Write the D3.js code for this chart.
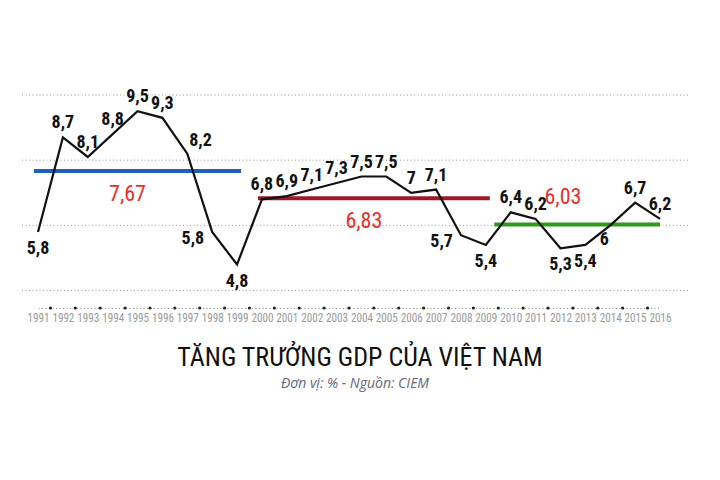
<!DOCTYPE html>
<html><head><meta charset="utf-8">
<script src="https://cdn.jsdelivr.net/npm/d3@7/dist/d3.min.js"></script>
<style>body{margin:0;background:#fff}</style></head>
<body><svg id="c" width="720" height="480"></svg>
<script>
const years = d3.range(1991, 2017);
const growth = [5.8,8.7,8.1,8.8,9.5,9.3,8.2,5.8,4.8,6.8,6.9,7.1,7.3,7.5,7.5,7,7.1,5.7,5.4,6.4,6.2,5.3,5.4,6,6.7,6.2];
const labelPos = ["b","a","a","a","a","a","ar","l","b","a","a","a","a","a","a","a","a","l","b","a","a","b","b","bl","a","a"];
const periodStart = [1991, 2000, 2009.5];
const periodEnd = [1999, 2009, 2016];
const periodAvg = [7.67, 6.83, 6.03];
const periodColor = ["#1f5fbf", "#a01828", "#2e9a1a"];
const gridVals = [4, 6, 8, 10];

const svg = d3.select("#c");
const x = d3.scaleLinear().domain([1991, 2016]).range([38, 660]);
const y = d3.scaleLinear().domain([0, 10]).range([421, 95]);
const font = "'Liberation Sans Narrow','Roboto Condensed','DejaVu Sans Condensed',sans-serif";

svg.selectAll(".g").data(gridVals).join("line")
  .attr("x1", 22).attr("x2", 690).attr("y1", d => y(d)).attr("y2", d => y(d))
  .attr("stroke", "#999").attr("stroke-dasharray", "1,2.5").attr("stroke-width", 1);

// axis
const ax = d3.axisBottom(x).tickValues(years).tickFormat(d => d).tickSize(0);
const gx = svg.append("g").attr("transform", "translate(0,308)").call(ax);
gx.select(".domain").attr("stroke", "#888").attr("stroke-dasharray", "1,2.5");
gx.selectAll("text").attr("font-family", font).attr("font-size", 12).attr("fill", "#999")
  .attr("dy", "0.9em").attr("textLength", 22).attr("lengthAdjust", "spacingAndGlyphs");
svg.selectAll(".td").data(years.slice(1)).join("circle")
  .attr("cx", d => x(d - 0.5)).attr("cy", 308).attr("r", 1.6).attr("fill", "#222");

// averages
periodAvg.forEach((v, i) => {
  const xs = x(periodStart[i]) - 4, xe = x(periodEnd[i]) + (i === 2 ? 0 : 4);
  svg.append("line").attr("x1", xs).attr("x2", xe).attr("y1", y(v)).attr("y2", y(v))
    .attr("stroke", periodColor[i]).attr("stroke-width", 4);
  svg.append("text").attr("x", (i === 2 ? x(2012.5) : (xs + xe) / 2) - 10)
    .attr("y", i === 2 ? y(v) - 20 : y(v) + 30)
    .attr("text-anchor", "middle").attr("font-family", font).attr("font-size", 22)
    .attr("fill", "#e8302a").text(d3.format(".2f")(v).replace(".", ","));
});

const line = d3.line().x((d, i) => x(years[i])).y(d => y(d));
svg.append("path").datum(growth).attr("d", line).attr("fill", "none")
  .attr("stroke", "#111").attr("stroke-width", 2.2);

const off = {a: [0, -9, "middle"], b: [0, 22, "middle"], l: [-8, 12, "end"], ar: [2, -8, "start"], bl: [-6, 20, "middle"]};
svg.selectAll(".lab").data(growth).join("text")
  .attr("x", (d, i) => x(years[i]) + off[labelPos[i]][0])
  .attr("y", (d, i) => y(d) + off[labelPos[i]][1])
  .attr("text-anchor", (d, i) => off[labelPos[i]][2])
  .attr("font-family", font).attr("font-size", 18).attr("font-weight", "bold").attr("fill", "#111")
  .text(d => String(d).replace(".", ","));

svg.append("text").attr("x", 360).attr("y", 366).attr("text-anchor", "middle")
  .attr("font-family", font).attr("font-size", 26).attr("fill", "#111").text("TĂNG TRƯỞNG GDP CỦA VIỆT NAM");
svg.append("text").attr("x", 355).attr("y", 388).attr("text-anchor", "middle")
  .attr("font-family", "'Open Sans',sans-serif").attr("font-style", "italic").attr("font-size", 14)
  .attr("fill", "#667").text("Đơn vị:  % - Nguồn: CIEM");
</script></body></html>
